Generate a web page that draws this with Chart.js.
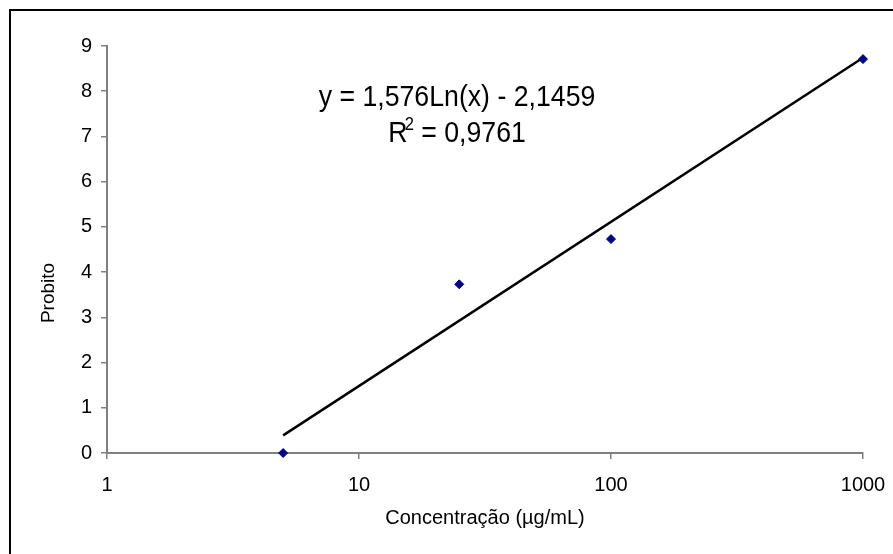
<!DOCTYPE html>
<html>
<head>
<meta charset="utf-8">
<script src="https://cdn.jsdelivr.net/npm/chart.js@4/dist/chart.umd.min.js"></script>
<style>
  html, body { margin: 0; padding: 0; background: #fff; }
</style>
</head>
<body>
<canvas id="myChart" width="893" height="554"></canvas>
<script>
// dados
const concentracoes = [5, 25, 100, 1000];
const probitos = [0, 3.73, 4.73, 8.71];
const tendenciaX = [5, 1000];
const tendenciaY = [0.39, 8.74];
const ticksX = [1, 10, 100, 1000];
const equacao = "y = 1,576Ln(x) - 2,1459";
const valorR2 = " = 0,9761";

const fonte = '"Liberation Sans", Arial, sans-serif';
const cinza = "#808080";

const extras = {
  id: "extras",
  afterDraw(chart) {
    const ctx = chart.ctx;
    const area = chart.chartArea;
    ctx.save();
    // moldura (só topo e esquerda aparecem)
    ctx.strokeStyle = "#000";
    ctx.lineWidth = 2;
    ctx.beginPath();
    ctx.moveTo(10, 554);
    ctx.lineTo(10, 10);
    ctx.lineTo(893, 10);
    ctx.stroke();

    ctx.fillStyle = "#000";
    ctx.textAlign = "center";
    ctx.textBaseline = "middle";
    ctx.font = "20px " + fonte;
    ctx.fillText("Concentração (µg/mL)", (area.left + area.right) / 2, 518);

    ctx.save();
    ctx.translate(49, 293);
    ctx.rotate(-Math.PI / 2);
    ctx.font = "19px " + fonte;
    ctx.fillText("Probito", 0, 0);
    ctx.restore();

    // equação da linha de tendência
    ctx.save();
    ctx.translate(457, 0);
    ctx.scale(0.92, 1);
    ctx.textBaseline = "alphabetic";
    ctx.font = "29px " + fonte;
    ctx.fillText(equacao, 0, 106);
    ctx.textAlign = "left";
    const wR = ctx.measureText("R").width;
    ctx.font = "18px " + fonte;
    const w2 = ctx.measureText("2").width;
    ctx.font = "29px " + fonte;
    const wV = ctx.measureText(valorR2).width;
    const total = wR + w2 - 3 + wV;
    let x0 = -total / 2;
    ctx.fillText("R", x0, 142);
    ctx.font = "18px " + fonte;
    ctx.fillText("2", x0 + wR - 3, 130);
    ctx.font = "29px " + fonte;
    ctx.fillText(valorR2, x0 + wR + w2 - 3, 142);
    ctx.restore();

    ctx.restore();
  }
};

const ctx = document.querySelector("#myChart").getContext("2d");

const myChart = new Chart(ctx, {
  type: "scatter",
  data: {
    datasets: [
      {
        label: "Probito",
        data: concentracoes.map((c, i) => ({ x: c, y: probitos[i] })),
        backgroundColor: "#000080",
        borderColor: "#000080",
        pointStyle: "rectRot",
        pointRadius: 4.5,
        borderWidth: 1,
        clip: false,
      },
      {
        label: "Tendência",
        data: tendenciaX.map((c, i) => ({ x: c, y: tendenciaY[i] })),
        showLine: true,
        borderColor: "#000",
        borderWidth: 2.5,
        pointRadius: 0,
        clip: false,
      },
    ],
  },
  options: {
    responsive: false,
    animation: false,
    layout: { padding: { top: 46, right: 30, left: 0, bottom: 0 } },
    plugins: {
      legend: { display: false },
      tooltip: { enabled: false },
    },
    scales: {
      x: {
        type: "logarithmic",
        min: 1,
        max: 1000,
        afterBuildTicks: (scale) => {
          scale.ticks = ticksX.map((v) => ({ value: v }));
        },
        afterFit: (scale) => {
          scale.height = 101;
          scale.paddingLeft = 0;
          scale.paddingRight = 0;
        },
        ticks: {
          color: "#000",
          font: { family: fonte, size: 20 },
          padding: 14,
          maxRotation: 0,
          callback: (v) => String(v),
        },
        grid: {
          display: true,
          drawOnChartArea: false,
          drawTicks: true,
          tickLength: 6,
          color: cinza,
          lineWidth: 1.5,
        },
        border: { display: true, color: cinza, width: 2 },
      },
      y: {
        min: 0,
        max: 9,
        afterFit: (scale) => {
          scale.width = 107;
          scale.paddingTop = 0;
          scale.paddingBottom = 0;
        },
        ticks: {
          stepSize: 1,
          color: "#000",
          font: { family: fonte, size: 20 },
          padding: 9,
        },
        grid: {
          display: true,
          drawOnChartArea: false,
          drawTicks: true,
          tickLength: 6,
          color: cinza,
          lineWidth: 1.5,
        },
        border: { display: true, color: cinza, width: 2 },
      },
    },
  },
  plugins: [extras],
});
</script>
</body>
</html>
